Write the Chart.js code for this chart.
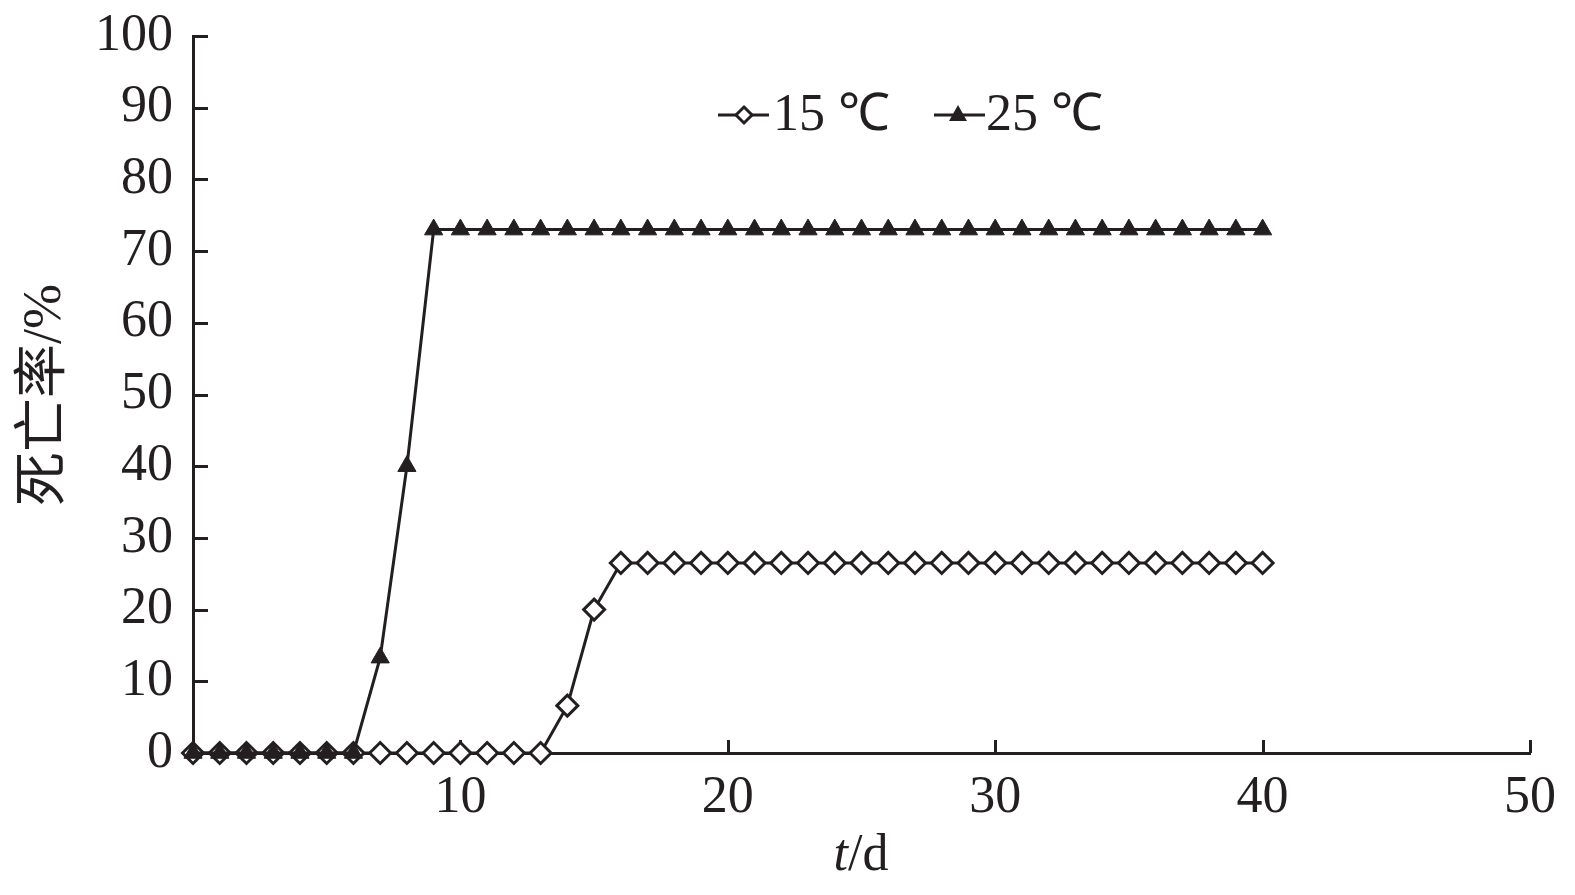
<!DOCTYPE html>
<html>
<head>
<meta charset="utf-8">
<script src="https://cdn.jsdelivr.net/npm/chart.js@4.4.1/dist/chart.umd.min.js"></script>
<style>
  html, body { margin: 0; padding: 0; background: #fff; }
  #wrap { width: 1575px; height: 895px; }
</style>
</head>
<body>
<div id="wrap"><canvas id="mortChart" width="1575" height="895"></canvas></div>
<script>
// days after treatment
const days = [0, 1, 2, 3, 4, 5, 6, 7, 8, 9, 10, 11, 12, 13, 14, 15, 16, 17, 18, 19, 20,
              21, 22, 23, 24, 25, 26, 27, 28, 29, 30, 31, 32, 33, 34, 35, 36, 37, 38, 39, 40];

// mortality (%)
const mort15 = [0, 0, 0, 0, 0, 0, 0, 0, 0, 0, 0, 0, 0, 0, 6.6, 20, 26.5, 26.5, 26.5, 26.5, 26.5,
                26.5, 26.5, 26.5, 26.5, 26.5, 26.5, 26.5, 26.5, 26.5, 26.5, 26.5, 26.5, 26.5, 26.5,
                26.5, 26.5, 26.5, 26.5, 26.5, 26.5];
const mort25 = [0, 0, 0, 0, 0, 0, 0, 13.3, 40, 73, 73, 73, 73, 73, 73, 73, 73, 73, 73, 73, 73,
                73, 73, 73, 73, 73, 73, 73, 73, 73, 73, 73, 73, 73, 73, 73, 73, 73, 73, 73, 73];

const seriesNames = ['15 ℃', '25 ℃'];
const xTicks = [10, 20, 30, 40, 50];
const yTicks = [0, 10, 20, 30, 40, 50, 60, 70, 80, 90, 100];

const INK = '#231f20';
const SERIF = "'Liberation Serif', 'Times New Roman', serif";
const CJK = "'Liberation Serif', 'Noto Sans CJK SC', serif";

function toPoints(vals) {
    return days.map((d, i) => ({ x: d, y: vals[i] }));
}

// inward ticks, axis titles and the legend
const decor = {
    id: 'decor',
    beforeDatasetsDraw(chart) {
        const { ctx, scales: { x, y } } = chart;
        ctx.save();
        ctx.strokeStyle = INK;
        ctx.lineWidth = 3;
        ctx.beginPath();
        yTicks.forEach(v => {
            if (v === 0) return;
            const py = Math.round(y.getPixelForValue(v)) + 0.5;
            ctx.moveTo(x.left, py);
            ctx.lineTo(x.left + 15, py);
        });
        xTicks.forEach(v => {
            const px = Math.round(x.getPixelForValue(v)) + 0.5;
            ctx.moveTo(px, y.bottom);
            ctx.lineTo(px, y.bottom - 13);
        });
        ctx.stroke();
        ctx.restore();
    },
    afterDraw(chart) {
        const { ctx } = chart;
        ctx.save();
        ctx.fillStyle = INK;

        // x title: italic t + "/d"
        ctx.textBaseline = 'alphabetic';
        ctx.font = 'italic 52px ' + SERIF;
        const wT = ctx.measureText('t').width;
        ctx.font = '52px ' + SERIF;
        const wD = ctx.measureText('/d').width;
        let sx = 861 - (wT + wD) / 2;
        ctx.font = 'italic 52px ' + SERIF;
        ctx.fillText('t', sx, 870);
        ctx.font = '52px ' + SERIF;
        ctx.fillText('/d', sx + wT, 870);

        // y title
        ctx.save();
        ctx.translate(46, 395);
        ctx.rotate(-Math.PI / 2);
        ctx.font = '54px ' + CJK;
        ctx.textAlign = 'center';
        ctx.textBaseline = 'middle';
        ctx.fillText('死亡率/%', 0, 0);
        ctx.restore();

        // legend
        ctx.strokeStyle = INK;
        ctx.lineWidth = 3;
        ctx.font = '52px ' + SERIF;
        ctx.textBaseline = 'alphabetic';
        const ly = 115;
        // 15 ℃
        ctx.beginPath();
        ctx.moveTo(718, ly); ctx.lineTo(769, ly);
        ctx.stroke();
        ctx.fillStyle = '#fff';
        ctx.beginPath();
        ctx.moveTo(744, ly - 8); ctx.lineTo(752, ly); ctx.lineTo(744, ly + 8); ctx.lineTo(736, ly);
        ctx.closePath();
        ctx.fill();
        ctx.stroke();
        ctx.fillStyle = INK;
        ctx.fillText(seriesNames[0], 773, 130);
        // 25 ℃
        ctx.beginPath();
        ctx.moveTo(934, ly); ctx.lineTo(985, ly);
        ctx.stroke();
        ctx.beginPath();
        ctx.moveTo(958, ly - 10); ctx.lineTo(967, ly + 6); ctx.lineTo(949, ly + 6);
        ctx.closePath();
        ctx.fill();
        ctx.fillText(seriesNames[1], 986, 130);
        ctx.restore();
    }
};

const ctx = document.getElementById('mortChart').getContext('2d');
new Chart(ctx, {
    type: 'line',
    data: {
        datasets: [
            {
                label: seriesNames[0],
                data: toPoints(mort15),
                borderColor: INK,
                borderWidth: 3,
                pointStyle: 'rectRot',
                pointRadius: 10.5,
                pointBorderWidth: 3,
                pointBackgroundColor: '#fff',
                pointBorderColor: INK,
                tension: 0,
                clip: false,
                order: 1
            },
            {
                label: seriesNames[1],
                data: toPoints(mort25),
                borderColor: INK,
                borderWidth: 3,
                pointStyle: 'triangle',
                pointRadius: 10.5,
                pointBorderWidth: 1,
                pointBackgroundColor: INK,
                pointBorderColor: INK,
                tension: 0,
                clip: false,
                order: 0
            }
        ]
    },
    options: {
        responsive: false,
        animation: false,
        layout: { padding: { top: 36, right: 45, left: 0, bottom: 0 } },
        plugins: {
            legend: { display: false },
            tooltip: { enabled: false }
        },
        scales: {
            x: {
                type: 'linear',
                min: 0,
                max: 50,
                afterFit: s => { s.height = 142; s.paddingLeft = 0; s.paddingRight = 0; },
                grid: { display: true, drawOnChartArea: false, drawTicks: false },
                border: { display: true, color: INK, width: 3 },
                ticks: {
                    stepSize: 10,
                    padding: 14,
                    color: INK,
                    font: { family: SERIF, size: 52 },
                    callback: v => (v === 0 ? '' : v)
                }
            },
            y: {
                min: 0,
                max: 100,
                afterFit: s => { s.width = 193; s.paddingTop = 0; s.paddingBottom = 0; },
                grid: { display: true, drawOnChartArea: false, drawTicks: false },
                border: { display: true, color: INK, width: 3 },
                ticks: {
                    stepSize: 10,
                    padding: 20,
                    color: INK,
                    font: { family: SERIF, size: 52 }
                }
            }
        }
    },
    plugins: [decor]
});
</script>
</body>
</html>
